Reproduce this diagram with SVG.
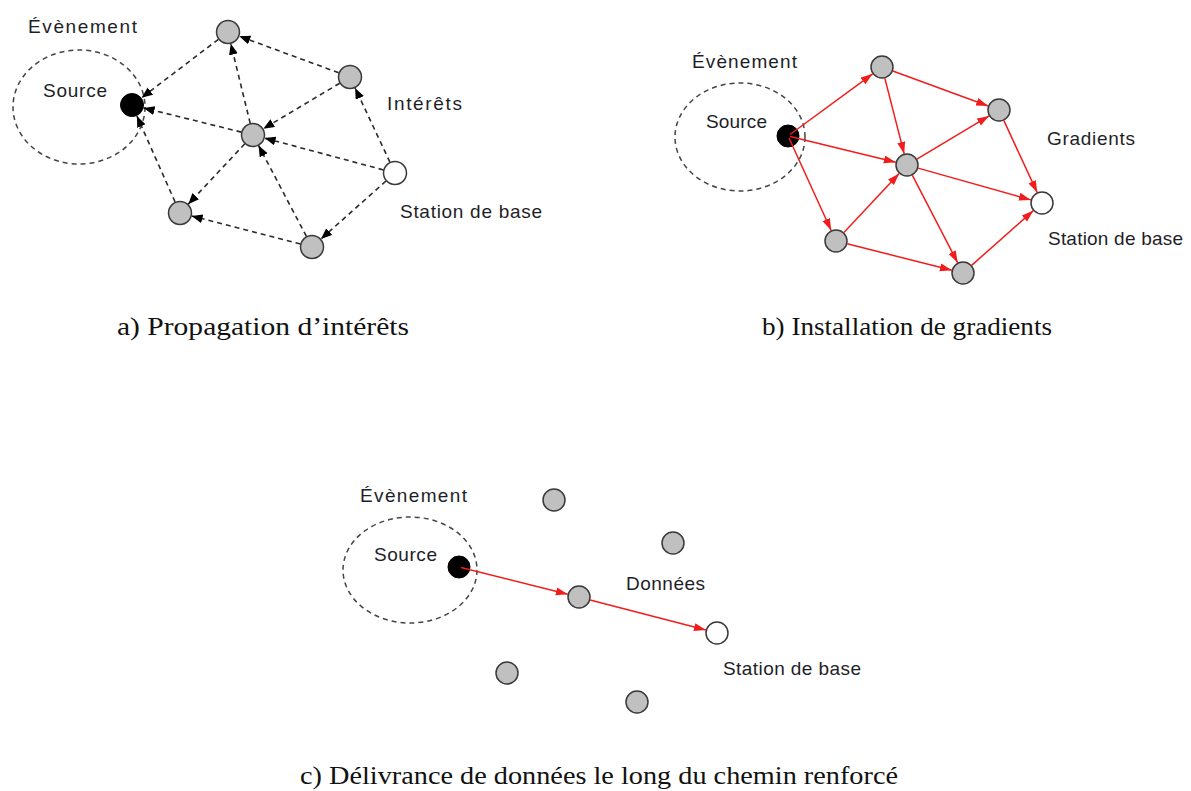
<svg xmlns="http://www.w3.org/2000/svg" width="1191" height="791" viewBox="0 0 1191 791">
<defs>
<style>
.lbl{font-family:"Liberation Sans",Arial,sans-serif;font-size:19px;fill:#1e1e28}
.cap{font-family:"Liberation Serif","Times New Roman",serif;font-size:26px;fill:#111}
.node{fill:#c0c0c0;stroke:#3a3a3a;stroke-width:1.5}
.src{fill:#000;stroke:#000;stroke-width:1}
.base{fill:#fff;stroke:#3a3a3a;stroke-width:1.5}
.ev{fill:none;stroke:#444;stroke-width:1.5;stroke-dasharray:5,4}
.dash{stroke:#2a2a2a;stroke-width:1.6;stroke-dasharray:5,4;fill:none;marker-end:url(#ab)}
.red{stroke:#f21c1c;stroke-width:1.5;fill:none;marker-end:url(#ar)}
</style>
<marker id="ab" markerUnits="userSpaceOnUse" markerWidth="12" markerHeight="10" refX="11" refY="4.5" orient="auto"><path d="M0,0 L11,4.5 L0,9 z" fill="#000"/></marker>
<marker id="ar" markerUnits="userSpaceOnUse" markerWidth="13" markerHeight="9" refX="12" refY="4" orient="auto"><path d="M0,0 L12,4 L0,8 z" fill="#f21c1c"/></marker>
</defs>
<rect width="1191" height="791" fill="#fff"/>

<!-- Panel a -->
<g id="a-event"><ellipse class="ev" cx="79" cy="107" rx="66" ry="57"/><text class="lbl" x="28" y="33" textLength="109">Évènement</text></g>
<g id="a-connectors">
<line class="dash" x1="338.7" y1="72.8" x2="239.3" y2="36.2"/>
<line class="dash" x1="218.4" y1="39.3" x2="141.6" y2="97.7"/>
<line class="dash" x1="250.2" y1="123.3" x2="230.8" y2="43.7"/>
<line class="dash" x1="339.7" y1="83.2" x2="263.3" y2="128.8"/>
<line class="dash" x1="389.9" y1="162.1" x2="355.1" y2="87.9"/>
<line class="dash" x1="383.4" y1="169.9" x2="264.6" y2="138.1"/>
<line class="dash" x1="241.4" y1="132.1" x2="143.6" y2="107.9"/>
<line class="dash" x1="244.8" y1="143.8" x2="188.2" y2="204.2"/>
<line class="dash" x1="175.1" y1="202.0" x2="136.9" y2="116.0"/>
<line class="dash" x1="386.0" y1="181.0" x2="321.0" y2="239.0"/>
<line class="dash" x1="306.4" y1="236.4" x2="258.6" y2="145.6"/>
<line class="dash" x1="300.4" y1="244.0" x2="191.6" y2="216.0"/>
</g>
<g id="a-source"><circle class="src" cx="132" cy="105" r="11.5"/><text class="lbl" x="43" y="97" textLength="64">Source</text></g>
<g id="a-n1"><circle class="node" cx="228" cy="32" r="11.5"/></g>
<g id="a-n2"><circle class="node" cx="350" cy="77" r="11.5"/></g>
<g id="a-n3"><circle class="node" cx="253" cy="135" r="11.5"/></g>
<g id="a-n4"><circle class="node" cx="180" cy="213" r="11.5"/></g>
<g id="a-n5"><circle class="node" cx="312" cy="247" r="11.5"/></g>
<g id="a-base"><circle class="base" cx="395" cy="173" r="11.5"/><text class="lbl" x="400" y="218" textLength="142">Station de base</text></g>
<g id="a-label"><text class="lbl" x="387" y="110" textLength="75">Intérêts</text></g>
<text class="cap" x="117" y="335" textLength="292" lengthAdjust="spacingAndGlyphs">a) Propagation d’intérêts</text>

<!-- Panel b -->
<g id="b-event"><ellipse class="ev" cx="740" cy="137" rx="65" ry="54"/><text class="lbl" x="692" y="68" textLength="105">Évènement</text></g>
<g id="b-source"><circle class="src" cx="788" cy="136" r="11"/><text class="lbl" x="706" y="128" textLength="61">Source</text></g>
<g id="b-n1"><circle class="node" cx="882" cy="67" r="11"/></g>
<g id="b-n2"><circle class="node" cx="999" cy="110" r="11"/></g>
<g id="b-n3"><circle class="node" cx="907" cy="165" r="11"/></g>
<g id="b-n4"><circle class="node" cx="836" cy="241" r="11"/></g>
<g id="b-n5"><circle class="node" cx="963" cy="273" r="11"/></g>
<g id="b-base"><circle class="base" cx="1042" cy="203" r="11"/><text class="lbl" x="1048" y="245" textLength="135">Station de base</text></g>
<g id="b-label"><text class="lbl" x="1047" y="145" textLength="88">Gradients</text></g>
<g id="b-connectors">
<line class="red" x1="790" y1="134.5" x2="872.7" y2="73.8"/>
<line class="red" x1="790" y1="136.5" x2="895.8" y2="162.3"/>
<line class="red" x1="789" y1="138" x2="831.2" y2="230.5"/>
<line class="red" x1="892.8" y1="71.0" x2="988.2" y2="106.0"/>
<line class="red" x1="884.8" y1="78.1" x2="904.2" y2="153.9"/>
<line class="red" x1="916.9" y1="159.1" x2="989.1" y2="115.9"/>
<line class="red" x1="843.9" y1="232.6" x2="899.2" y2="173.4"/>
<line class="red" x1="918.1" y1="168.1" x2="1030.9" y2="199.9"/>
<line class="red" x1="912.3" y1="175.2" x2="957.7" y2="262.8"/>
<line class="red" x1="1003.8" y1="120.4" x2="1037.2" y2="192.6"/>
<line class="red" x1="847.1" y1="243.8" x2="951.9" y2="270.2"/>
<line class="red" x1="971.6" y1="265.4" x2="1033.4" y2="210.6"/>
</g>
<text class="cap" x="762" y="335" textLength="290" lengthAdjust="spacingAndGlyphs">b) Installation de gradients</text>

<!-- Panel c -->
<g id="c-event"><ellipse class="ev" cx="410" cy="570" rx="67" ry="53"/><text class="lbl" x="360" y="502" textLength="107">Évènement</text></g>
<g id="c-source"><circle class="src" cx="459" cy="567" r="11"/><text class="lbl" x="374" y="561" textLength="63">Source</text></g>
<g id="c-n1"><circle class="node" cx="554" cy="500" r="11"/></g>
<g id="c-n2"><circle class="node" cx="673" cy="543" r="11"/></g>
<g id="c-n3"><circle class="node" cx="579" cy="597" r="11"/></g>
<g id="c-n4"><circle class="node" cx="507" cy="673" r="11"/></g>
<g id="c-n5"><circle class="node" cx="637" cy="702" r="11"/></g>
<g id="c-base"><circle class="base" cx="717" cy="633" r="11"/><text class="lbl" x="723" y="675" textLength="138">Station de base</text></g>
<g id="c-label"><text class="lbl" x="626" y="590" textLength="79">Données</text></g>
<g id="c-connectors">
<line class="red" x1="461" y1="567.5" x2="567.8" y2="594.2"/>
<line class="red" x1="590.1" y1="599.9" x2="705.9" y2="630.1"/>
</g>
<text class="cap" x="300" y="784" textLength="598" lengthAdjust="spacingAndGlyphs">c) Délivrance de données le long du chemin renforcé</text>
</svg>
